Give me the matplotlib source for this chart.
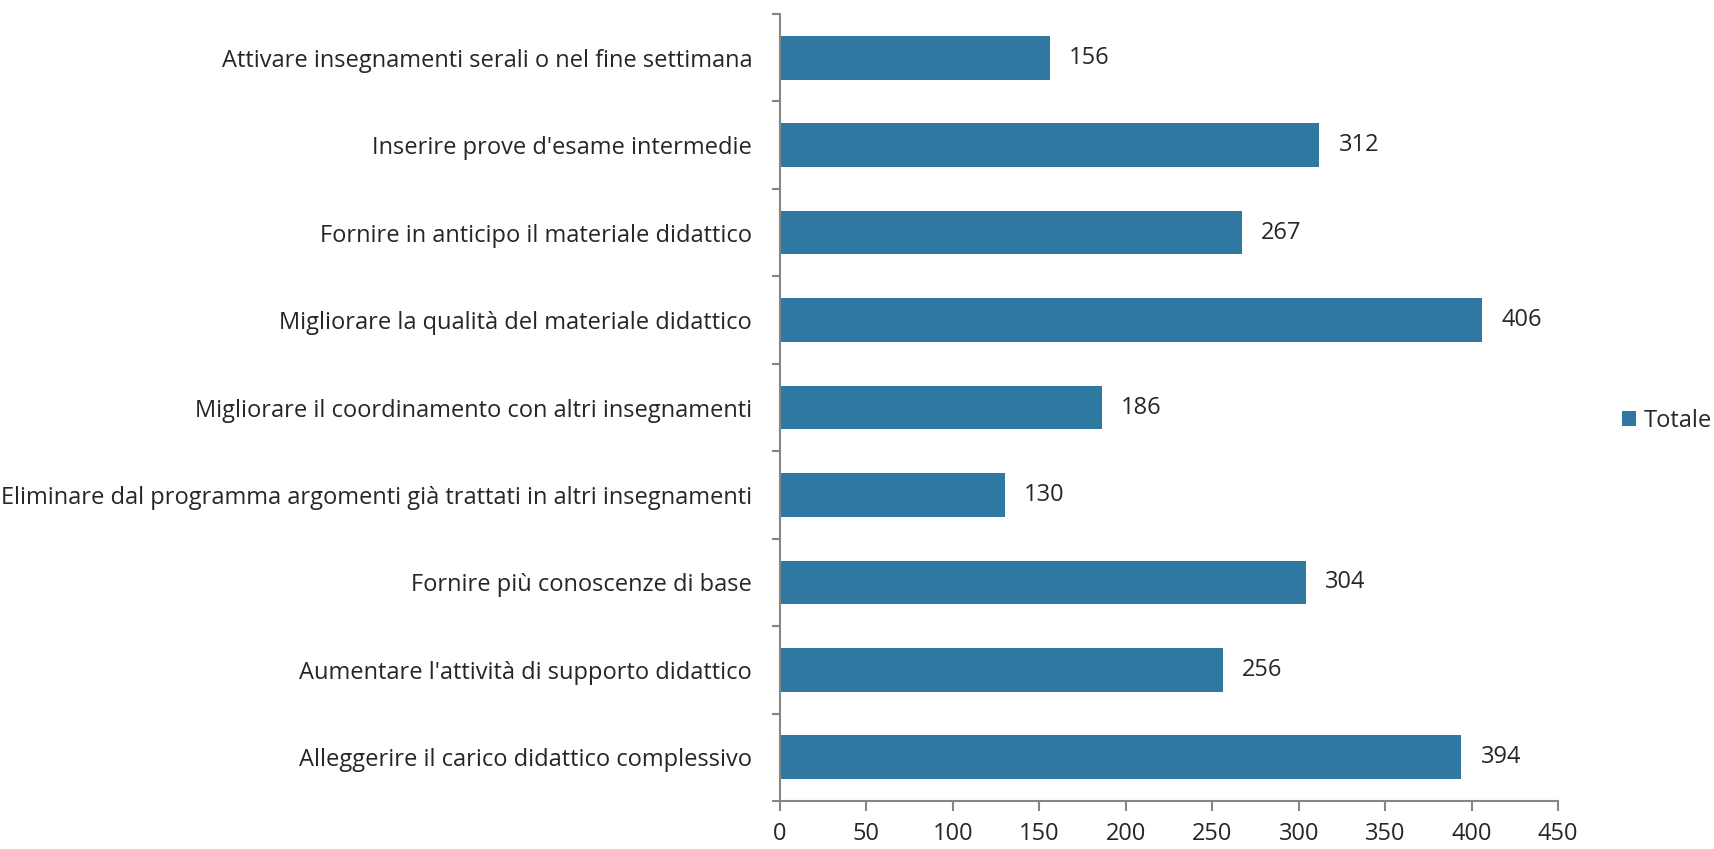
import numpy as np
import matplotlib as mpl
mpl.use('Agg')
import matplotlib.pyplot as plt
from matplotlib import font_manager

categories = [
    "Alleggerire il carico didattico complessivo",
    "Aumentare l'attività di supporto didattico",
    "Fornire più conoscenze di base",
    "Eliminare dal programma argomenti già trattati in altri insegnamenti",
    "Migliorare il coordinamento con altri insegnamenti",
    "Migliorare la qualità del materiale didattico",
    "Fornire in anticipo il materiale didattico",
    "Inserire prove d'esame intermedie",
    "Attivare insegnamenti serali o nel fine settimana",
]
values = [394, 256, 304, 130, 186, 406, 267, 312, 156]
series_name = 'Totale'
xticks = [0, 50, 100, 150, 200, 250, 300, 350, 400, 450]

names = {f.name for f in font_manager.fontManager.ttflist}
family = 'Liberation Sans Narrow' if 'Liberation Sans Narrow' in names else 'Open Sans'
plt.rcParams['font.family'] = [family, 'DejaVu Sans']

bar_color = '#2E78A1'
axis_color = '#868686'
text_color = '#262626'

fig = plt.figure(figsize=(17.15, 8.49), dpi=100)
ax = fig.add_axes([0.4548, 0.0565, 0.4537, 0.927])

y = np.arange(len(categories))
bars = ax.barh(y, values, height=0.5, color=bar_color, label=series_name)

ax.set_xlim(0, 450)
ax.set_ylim(-0.5, len(categories) - 0.5)
ax.set_xticks(xticks)
ax.set_yticks(y)
ax.set_yticklabels(categories, fontsize=17, color=text_color)
ax.set_xticklabels([str(t) for t in xticks], fontsize=17, color=text_color)

# category boundary ticks on the y axis
ax.set_yticks(np.arange(len(categories) + 1) - 0.5, minor=True)
ax.tick_params(axis='y', which='major', length=0, pad=20)
ax.tick_params(axis='y', which='minor', length=6, color=axis_color, width=1.5)
ax.tick_params(axis='x', which='major', length=7, color=axis_color, width=1.5, pad=8)

for s in ['top', 'right']:
    ax.spines[s].set_visible(False)
for s in ['left', 'bottom']:
    ax.spines[s].set_color(axis_color)
    ax.spines[s].set_linewidth(1.5)

for b, v in zip(bars, values):
    ax.annotate(str(v), (b.get_width(), b.get_y() + b.get_height() / 2),
                xytext=(14, 0), textcoords='offset points', va='center',
                fontsize=17, color=text_color)

leg = fig.legend(handles=[bars], labels=[series_name], loc='center right',
                 bbox_to_anchor=(0.998, 0.504), frameon=False, fontsize=17,
                 handlelength=0.6, handleheight=0.6, handletextpad=0.3,
                 borderaxespad=0, borderpad=0)
for t in leg.get_texts():
    t.set_color(text_color)

fig.savefig('out.png', dpi=100, facecolor='white')
